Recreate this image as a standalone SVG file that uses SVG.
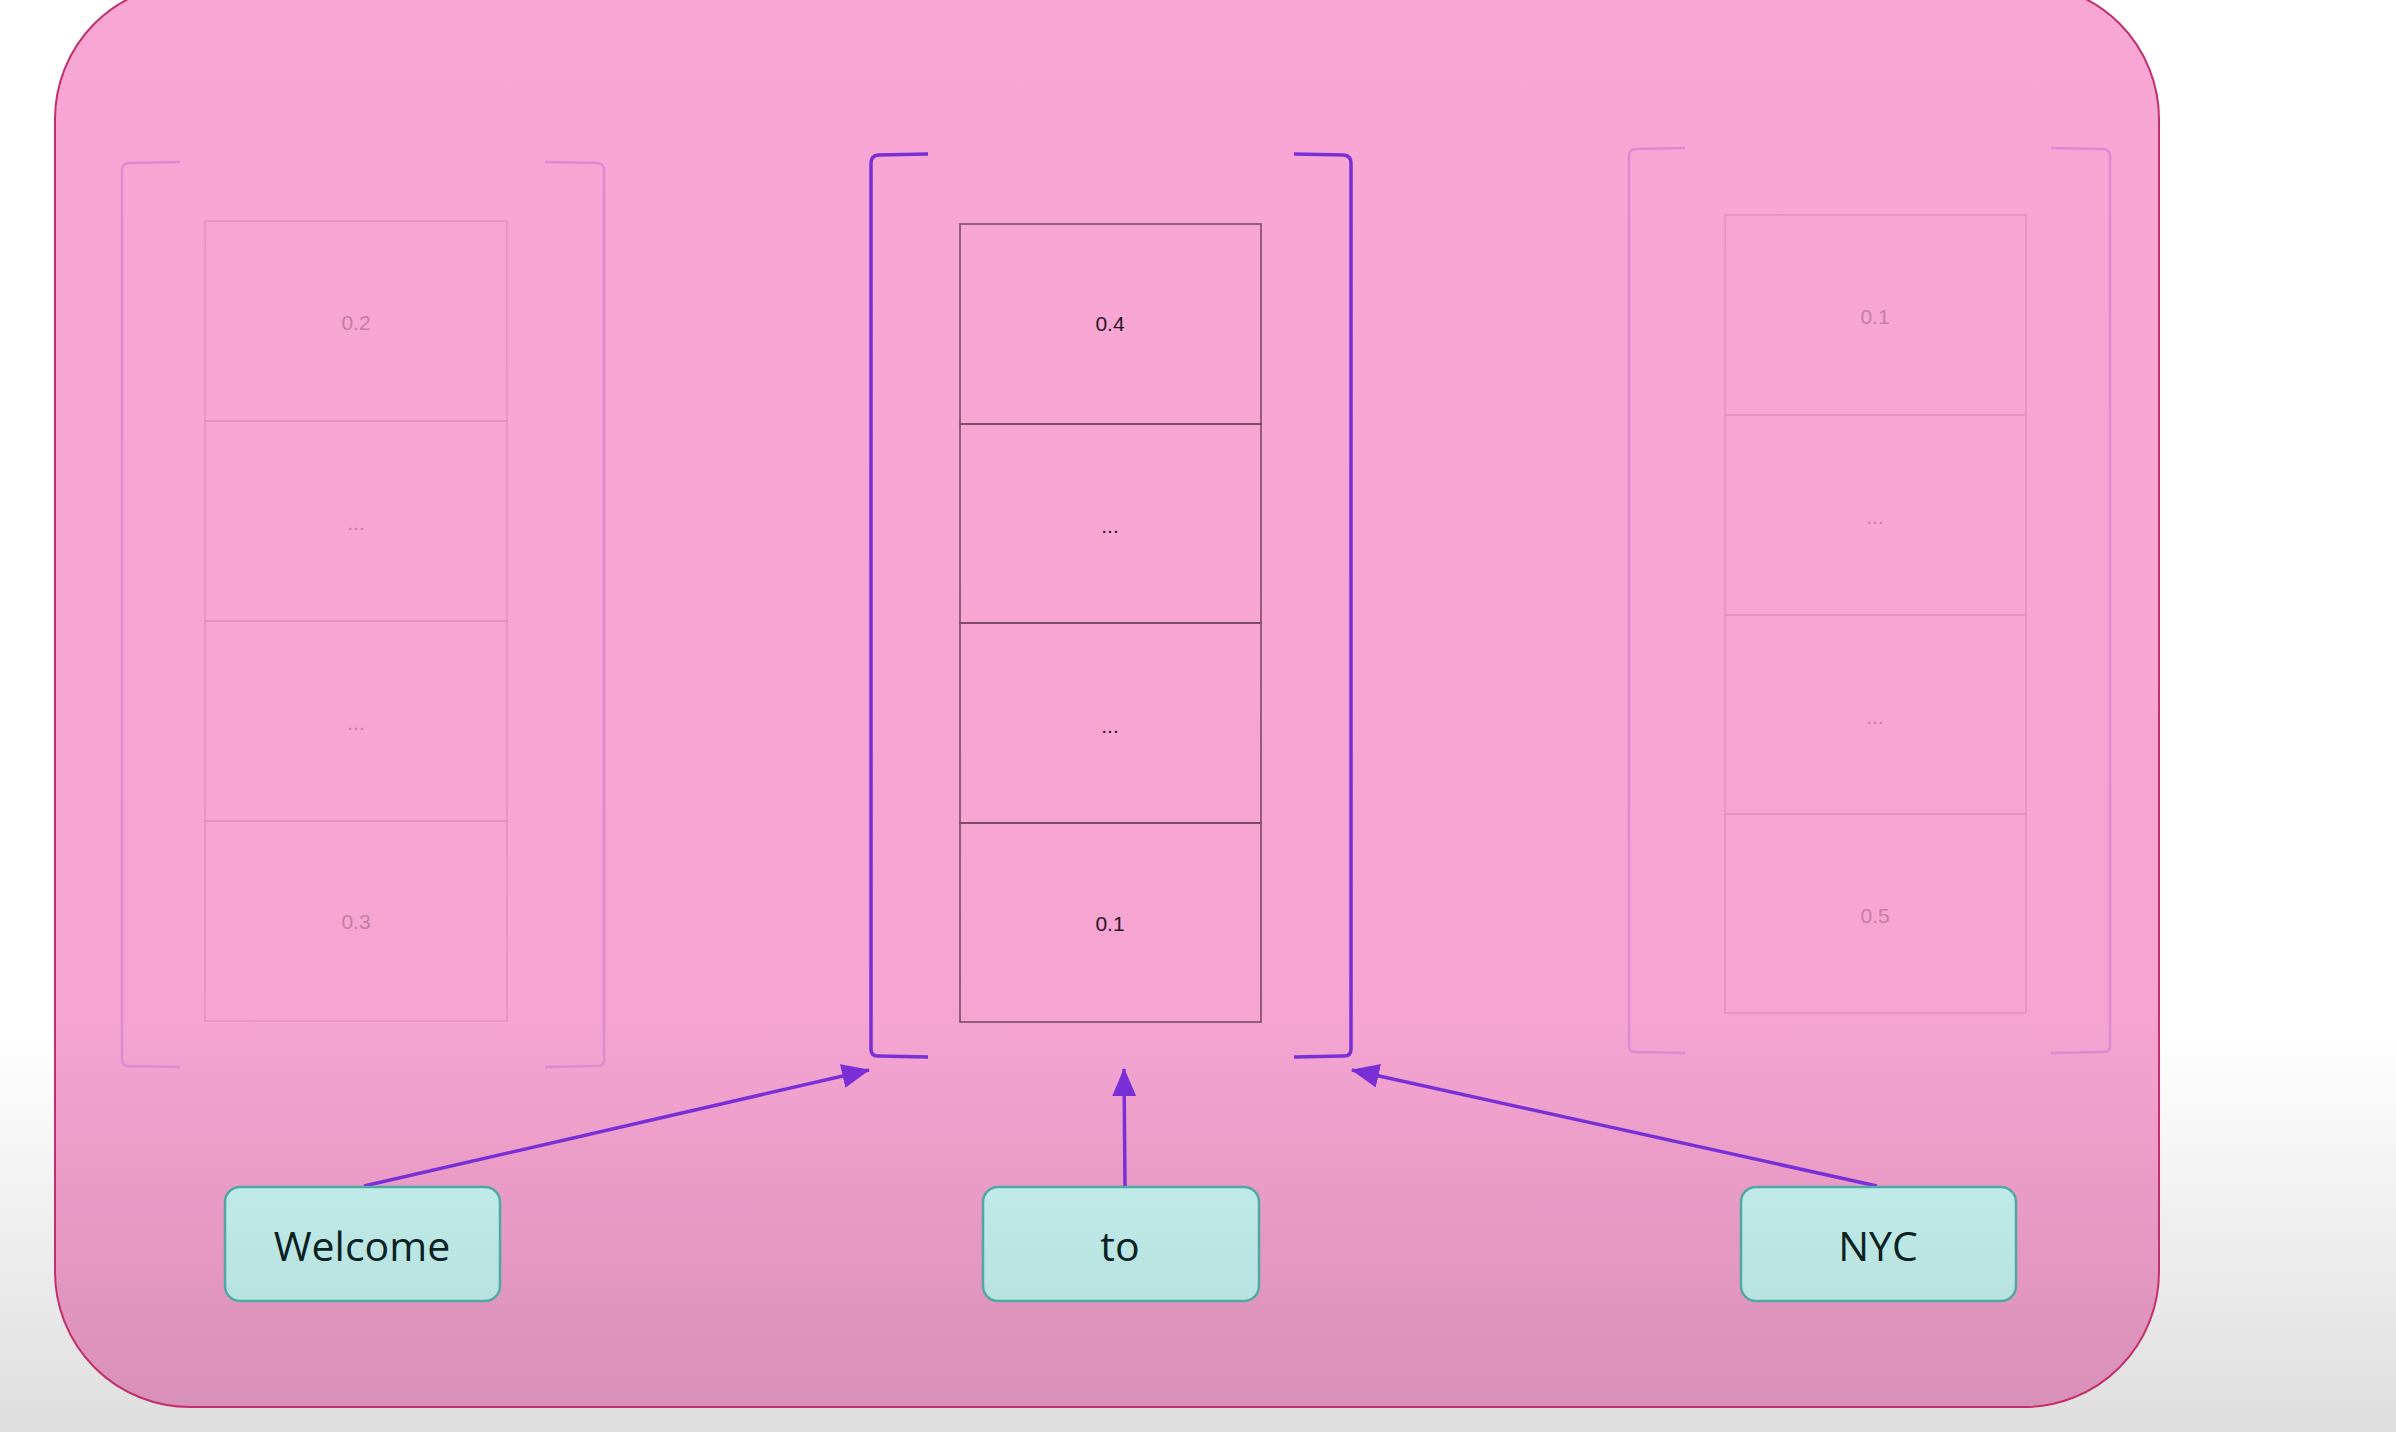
<svg xmlns="http://www.w3.org/2000/svg" width="2396" height="1432" viewBox="0 0 2396 1432">
<defs>
<linearGradient id="bg" x1="0" y1="0" x2="0" y2="1">
<stop offset="0" stop-color="#ffffff"/>
<stop offset="0.72" stop-color="#ffffff"/>
<stop offset="1" stop-color="#dedede"/>
</linearGradient>
<linearGradient id="panel" x1="0" y1="0" x2="0" y2="1">
<stop offset="0" stop-color="#f8a7d4"/>
<stop offset="0.72" stop-color="#f6a5d2"/>
<stop offset="1" stop-color="#d990b8"/>
</linearGradient>
<linearGradient id="tok" x1="0" y1="0" x2="0" y2="1">
<stop offset="0" stop-color="#bfeae8"/>
<stop offset="1" stop-color="#b8e2e0"/>
</linearGradient>
<marker id="arr" markerWidth="28" markerHeight="24" refX="27" refY="12" orient="auto" markerUnits="userSpaceOnUse">
<path d="M0,0 L28,12 L0,24 Z" fill="#7a2fd6"/>
</marker>
</defs>
<style>
.cell{fill:none;stroke:#7a4a66;stroke-width:1.6}
.fcell{fill:none;stroke:#e690c2;stroke-width:1.6}
.br{fill:none;stroke:#7a2fd6;stroke-width:3.5}
.fbr{fill:none;stroke:#dc8ad2;stroke-width:2.5}
.val{font-family:"Liberation Sans",Arial,sans-serif;font-size:21px;fill:#2a1428;text-anchor:middle}
.fval{font-family:"Liberation Sans",Arial,sans-serif;font-size:21px;fill:#c47ea4;text-anchor:middle}
.tokbox{fill:url(#tok);stroke:#4fa8a4;stroke-width:2.5}
.toktxt{font-family:"Open Sans","Noto Sans",sans-serif;font-size:41px;fill:#0a2222;text-anchor:middle}
.conn{fill:none;stroke:#7a2fd6;stroke-width:3.5}
</style>
<rect x="0" y="0" width="2396" height="1432" fill="url(#bg)"/>
<rect id="panel-bg" x="55" y="-16" width="2104" height="1423" rx="135" ry="135" fill="url(#panel)" stroke="#c2306c" stroke-width="2"/>

<g id="vec-welcome">
<path class="fbr" d="M180,162 L128,163 Q122,164 122,170 L122,1060 Q122,1066 128,1066 L180,1067"/>
<path class="fbr" d="M545,162 L598,163 Q604,164 604,170 L604,1060 Q604,1066 598,1066 L545,1067"/>
<rect class="fcell" x="205" y="221" width="302" height="200"/>
<rect class="fcell" x="205" y="421" width="302" height="200"/>
<rect class="fcell" x="205" y="621" width="302" height="200"/>
<rect class="fcell" x="205" y="821" width="302" height="200"/>
<text class="fval" x="356" y="330">0.2</text>
<text class="fval" x="356" y="530">...</text>
<text class="fval" x="356" y="730">...</text>
<text class="fval" x="356" y="929">0.3</text>
</g>

<g id="vec-to">
<path class="br" d="M928,154 L878,155 Q871,156 871,163 L871,1049 Q871,1056 878,1056 L928,1057"/>
<path class="br" d="M1294,154 L1344,155 Q1351,156 1351,163 L1351,1049 Q1351,1056 1344,1056 L1294,1057"/>
<rect class="cell" x="960" y="224" width="301" height="200"/>
<rect class="cell" x="960" y="424" width="301" height="199"/>
<rect class="cell" x="960" y="623" width="301" height="200"/>
<rect class="cell" x="960" y="823" width="301" height="199"/>
<text class="val" x="1110" y="331">0.4</text>
<text class="val" x="1110" y="533">...</text>
<text class="val" x="1110" y="733">...</text>
<text class="val" x="1110" y="931">0.1</text>
</g>

<g id="vec-nyc">
<path class="fbr" d="M1685,148 L1635,149 Q1629,150 1629,156 L1629,1046 Q1629,1052 1635,1052 L1685,1053"/>
<path class="fbr" d="M2051,148 L2104,149 Q2110,150 2110,156 L2110,1046 Q2110,1052 2104,1052 L2051,1053"/>
<rect class="fcell" x="1725" y="215" width="301" height="200"/>
<rect class="fcell" x="1725" y="415" width="301" height="200"/>
<rect class="fcell" x="1725" y="615" width="301" height="199"/>
<rect class="fcell" x="1725" y="814" width="301" height="199"/>
<text class="fval" x="1875" y="324">0.1</text>
<text class="fval" x="1875" y="524">...</text>
<text class="fval" x="1875" y="724">...</text>
<text class="fval" x="1875" y="923">0.5</text>
</g>

<g id="connectors">
<line class="conn" x1="364" y1="1186" x2="869" y2="1070" marker-end="url(#arr)"/>
<line class="conn" x1="1125" y1="1187" x2="1124" y2="1069" marker-end="url(#arr)"/>
<line class="conn" x1="1877" y1="1186" x2="1352" y2="1070" marker-end="url(#arr)"/>
</g>

<g id="tok-welcome">
<rect class="tokbox" x="225" y="1187" width="275" height="114" rx="15" ry="15"/>
<text class="toktxt" x="362" y="1261">Welcome</text>
</g>
<g id="tok-to">
<rect class="tokbox" x="983" y="1187" width="276" height="114" rx="15" ry="15"/>
<text class="toktxt" x="1120" y="1261">to</text>
</g>
<g id="tok-nyc">
<rect class="tokbox" x="1741" y="1187" width="275" height="114" rx="15" ry="15"/>
<text class="toktxt" x="1878" y="1261">NYC</text>
</g>
</svg>
